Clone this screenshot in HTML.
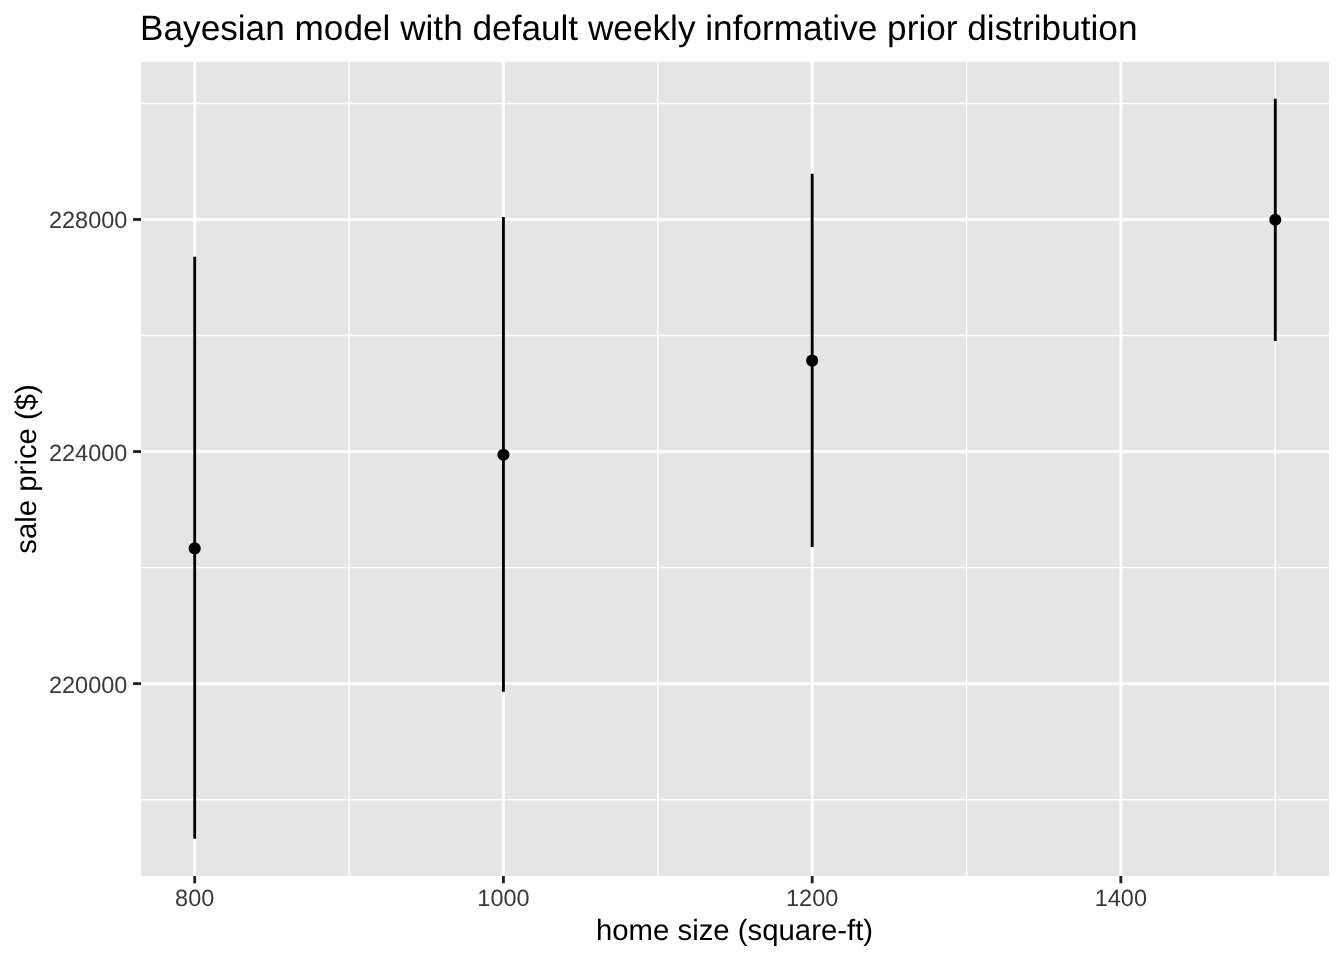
<!DOCTYPE html>
<html lang="en"><head><meta charset="utf-8"><title>Bayesian model with default weekly informative prior distribution</title>
<style>html,body{margin:0;padding:0;background:#fff;}body{width:1344px;height:960px;overflow:hidden;}svg{display:block;will-change:transform;}text{text-rendering:geometricPrecision;font-family:"Liberation Sans",Arial,Helvetica,sans-serif;}</style></head><body>
<svg width="1344" height="960" viewBox="0 0 1344 960">
<rect x="0" y="0" width="1344" height="960" fill="#ffffff"/>
<rect x="141.07" y="61.9" width="1188.03" height="814.03" fill="#E5E5E5"/>
<g stroke="#ffffff" stroke-width="1.42" fill="none">
<line x1="141.07" x2="1329.1" y1="799.67" y2="799.67"/>
<line x1="141.07" x2="1329.1" y1="567.59" y2="567.59"/>
<line x1="141.07" x2="1329.1" y1="335.50" y2="335.50"/>
<line x1="141.07" x2="1329.1" y1="103.42" y2="103.42"/>
<line y1="61.9" y2="875.93" x1="349.07" x2="349.07"/>
<line y1="61.9" y2="875.93" x1="657.81" x2="657.81"/>
<line y1="61.9" y2="875.93" x1="966.55" x2="966.55"/>
<line y1="61.9" y2="875.93" x1="1275.29" x2="1275.29"/>
</g>
<g stroke="#ffffff" stroke-width="2.85" fill="none">
<line x1="141.07" x2="1329.1" y1="683.63" y2="683.63"/>
<line x1="141.07" x2="1329.1" y1="451.54" y2="451.54"/>
<line x1="141.07" x2="1329.1" y1="219.46" y2="219.46"/>
<line y1="61.9" y2="875.93" x1="194.70" x2="194.70"/>
<line y1="61.9" y2="875.93" x1="503.44" x2="503.44"/>
<line y1="61.9" y2="875.93" x1="812.18" x2="812.18"/>
<line y1="61.9" y2="875.93" x1="1120.85" x2="1120.85"/>
</g>
<g stroke="#000000" stroke-width="2.85" fill="none">
<line x1="194.70" x2="194.70" y1="256.7" y2="838.85"/>
<line x1="503.44" x2="503.44" y1="217.1" y2="691.8"/>
<line x1="812.18" x2="812.18" y1="173.75" y2="547.1"/>
<line x1="1275.29" x2="1275.29" y1="98.75" y2="341.0"/>
</g><g fill="#000000">
<circle cx="194.70" cy="548.4" r="6.05"/>
<circle cx="503.44" cy="454.7" r="6.05"/>
<circle cx="812.18" cy="360.6" r="6.05"/>
<circle cx="1275.29" cy="219.7" r="6.05"/>
</g>
<g stroke="#222222" stroke-width="2.85" fill="none">
<line x1="133.07" x2="141.07" y1="683.63" y2="683.63"/>
<line x1="133.07" x2="141.07" y1="451.54" y2="451.54"/>
<line x1="133.07" x2="141.07" y1="219.46" y2="219.46"/>
<line y1="875.93" y2="883.26" x1="194.70" x2="194.70"/>
<line y1="875.93" y2="883.26" x1="503.44" x2="503.44"/>
<line y1="875.93" y2="883.26" x1="812.18" x2="812.18"/>
<line y1="875.93" y2="883.26" x1="1120.85" x2="1120.85"/>
</g>
<g fill="#383838" font-size="23.47px">
<text x="127.35" y="693.0" text-anchor="end">220000</text>
<text x="127.35" y="461.0" text-anchor="end">224000</text>
<text x="127.35" y="228.0" text-anchor="end">228000</text>
<text x="194.70" y="906.2" text-anchor="middle">800</text>
<text x="503.44" y="906.2" text-anchor="middle">1000</text>
<text x="812.18" y="906.2" text-anchor="middle">1200</text>
<text x="1120.85" y="906.2" text-anchor="middle">1400</text>
</g>
<text x="140.0" y="40.2" font-size="35.2px" fill="#000000">Bayesian model with default weekly informative prior distribution</text>
<text x="734.55" y="939.6" font-size="29.33px" fill="#000000" text-anchor="middle">home size (square-ft)</text>
<text transform="translate(35.7,468.9) rotate(-90)" font-size="29.33px" fill="#000000" text-anchor="middle">sale price ($)</text>
</svg></body></html>
